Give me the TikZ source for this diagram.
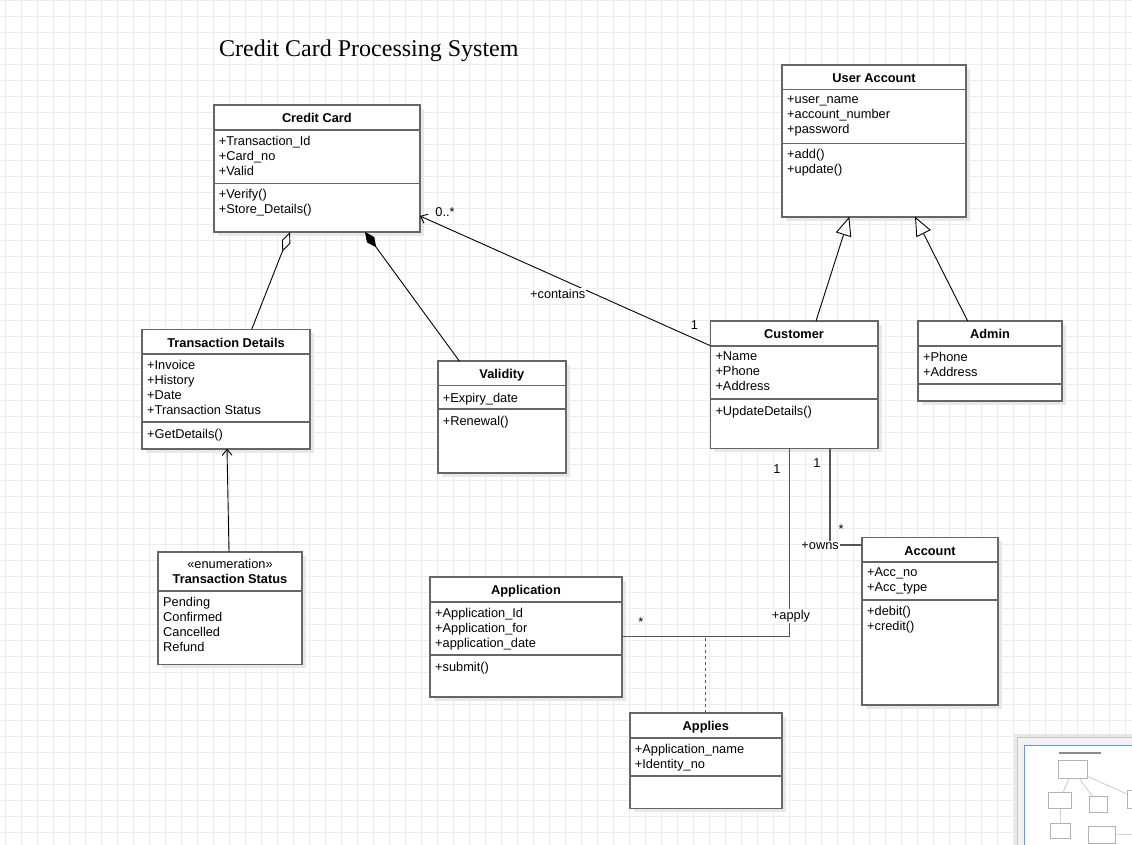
\documentclass[tikz,border=0pt]{standalone}
\usepackage{fontspec}
\setmainfont{Liberation Sans}
\newfontfamily\titlefont{Liberation Serif}
\usetikzlibrary{arrows.meta, calc, shadows}
\definecolor{boxgray}{HTML}{666666}
\definecolor{linegray}{HTML}{555555}
\definecolor{gridgray}{HTML}{EDEDED}
\definecolor{shadowgray}{HTML}{E8E8E8}
\definecolor{miniblue}{HTML}{5B9BF5}

% class box: name, top left, width, height, title, header height, attributes, attribute height, methods
\newcommand{\umlclass}[9]{%
  \node[classbox, minimum width=#3, minimum height=#4, anchor=north west] (#1) at (#2) {};
  \node[classtitle] (#1-title) at ([yshift=-7]#1.north) {#5};
  \draw[divider] ([yshift=-#6]#1.north west) -- ([yshift=-#6]#1.north east);
  \node[members] (#1-attr) at ([xshift=5,yshift=-#6-6.2]#1.north west) {#7};
  \draw[divider] ([yshift=-#6-#8]#1.north west) -- ([yshift=-#6-#8]#1.north east);
  \node[members] (#1-ops) at ([xshift=5,yshift=-#6-#8-6.2]#1.north west) {#9};
}

\begin{document}
\begin{tikzpicture}[
    x=1pt, y=1pt,
    classbox/.style={rectangle, draw=boxgray, line width=1.6pt, fill=white, inner sep=0pt, outer sep=0pt,
        drop shadow={shadow xshift=4pt, shadow yshift=-4pt, fill=shadowgray, opacity=1}},
    classtitle/.style={anchor=north, align=center, inner sep=0pt, execute at begin node=\strut,
        font=\fontsize{12.8}{15}\selectfont\bfseries},
    members/.style={anchor=north west, align=left, inner sep=0pt, execute at begin node=\strut,
        font=\fontsize{12.8}{15}\selectfont},
    divider/.style={draw=boxgray, line width=1.6pt},
    lbl/.style={inner sep=1pt, font=\fontsize{12.8}{15}\selectfont},
    assoc/.style={-{Straight Barb[length=6pt, width=10pt]}, line width=0.9pt},
    generalize/.style={-{Triangle[open, fill=white, length=19pt, width=16pt]}, line width=0.9pt},
    aggr/.style={{Diamond[fill=white, length=21pt, width=9pt]}-, line width=0.9pt},
    compos/.style={{Diamond[length=19pt, width=9pt]}-, line width=0.9pt},
    orth/.style={draw=linegray, line width=1.2pt},
    assocclass/.style={draw=linegray, line width=1.2pt, dash pattern=on 3pt off 3pt}
]
    \useasboundingbox (0,0) rectangle (1132,-844);
    \fill[white] (0,0) rectangle (1132,-844);
    \begin{scope}[shift={(5.7,-0.7)}]
        \draw[gridgray, line width=1pt, step=16] (-16,16) grid (1136,-848);
    \end{scope}

    \node[anchor=base west, inner sep=0pt, font=\titlefont\fontsize{24}{28}\selectfont] (title) at (219,-56) {Credit Card Processing System};

    \umlclass{card}{213.7,-105}{206.3}{127}{Credit Card}{25}{+Transaction\_Id\\+Card\_no\\+Valid}{53.3}{+Verify()\\+Store\_Details()}
    \umlclass{useracc}{782,-65}{184}{151.7}{User Account}{24.3}{+user\_name\\+account\_number\\+password}{54}{+add()\\+update()}
    \umlclass{customer}{710.3,-321}{167.4}{127.3}{Customer}{24.7}{+Name\\+Phone\\+Address}{53.3}{+UpdateDetails()}
    \umlclass{admin}{918,-321}{144}{79.7}{Admin}{24.7}{+Phone\\+Address}{38.3}{}
    \umlclass{tdetails}{142,-329.3}{168}{119.4}{Transaction Details}{24.4}{+Invoice\\+History\\+Date\\+Transaction Status}{68.3}{+GetDetails()}
    \umlclass{validity}{437.7,-361}{128.3}{111.7}{Validity}{24.3}{+Expiry\_date}{23.7}{+Renewal()}
    \umlclass{tstatus}{158,-551.8}{144}{112.5}{{\mdseries «enumeration»}\\Transaction Status}{39.2}{Pending\\Confirmed\\Cancelled\\Refund}{73.3}{}
    \umlclass{application}{430,-576.7}{192}{120}{Application}{25}{+Application\_Id\\+Application\_for\\+application\_date}{53.3}{+submit()}
    \umlclass{account}{862,-537.3}{136}{167.7}{Account}{24.4}{+Acc\_no\\+Acc\_type}{38.3}{+debit()\\+credit()}
    \umlclass{applies}{629.7,-712.7}{152.3}{95.6}{Applies}{25}{+Application\_name\\+Identity\_no}{38.3}{}

    \draw[assoc] ([yshift=-24.7]customer.north west) -- ([yshift=-111]card.north east);
    \draw[generalize] ([xshift=105.7]customer.north west) -- ([xshift=67.3]useracc.south west);
    \draw[generalize] ([xshift=49.7]admin.north west) -- ([xshift=133]useracc.south west);
    \draw[aggr] ([xshift=76.3]card.south west) -- ([xshift=109.7]tdetails.north west);
    \draw[compos] ([xshift=151.3]card.south west) -- ([xshift=21.6]validity.north west);
    \draw[assoc] ([xshift=71]tstatus.north west) -- ([xshift=85]tdetails.south west);

    \draw[orth] ([xshift=119.7]customer.south west) |- ([yshift=-7.7]account.north west);
    \coordinate (applyend) at ([yshift=-60]application.north east);
    \draw[orth] ([xshift=79.4]customer.south west) |- (applyend);
    \draw[assocclass] (applies.north) -- (applies.north |- applyend);

    \node[lbl] (mcard) at (445,-211.7) {0..*};
    \node[lbl, fill=white] (lcontains) at (557.7,-294) {+contains};
    \node[lbl] (mcust) at (694.3,-325) {1};
    \node[lbl] (mowner) at (817,-462.7) {1};
    \node[lbl] (macc) at (841,-529) {*};
    \node[lbl, fill=white, anchor=east] (lowns) at (840,-545.7) {+owns};
    \node[lbl] (mapplicant) at (777,-469) {1};
    \node[lbl, fill=white] (lapply) at (791,-615.7) {+apply};
    \node[lbl] (mappl) at (640.8,-621.7) {*};

    % outline panel
    \fill[black!9] (1014,-734) rectangle (1140,-850);
    \draw[black!22, fill=black!5] (1017.5,-737.5) rectangle (1140,-850);
    \draw[miniblue, line width=1.5pt, fill=white] (1024.5,-745.5) rectangle (1140,-850);
    \begin{scope}
        \clip (1025.5,-746.5) rectangle (1132,-844);
        \begin{scope}[shift={(1028.6,-746.1)}, scale=0.139]
            \fill[black!45] (219,-42) rectangle (518,-56);
            \draw[black!25, line width=0.6pt] (420,-216) -- (710,-346) (290,-233) -- (250,-329)
                (365,-233) -- (459,-361) (229,-553) -- (227,-449) (790,-449) |- (622,-637);
            \foreach \bx/\by/\bw/\bh in {213.7/105/206.3/127, 782/65/184/151.7, 710.3/321/167.4/127.3,
                918/321/144/79.7, 142/329.3/168/119.4, 437.7/361/128.3/111.7, 158/553.3/144/111,
                430/576.7/192/120, 862/537.3/136/167.7, 629.7/712.7/152.3/95.6}
                \draw[black!30, line width=0.6pt, fill=white] (\bx,-\by) rectangle ++(\bw,-\bh);
        \end{scope}
    \end{scope}
\end{tikzpicture}
\end{document}
